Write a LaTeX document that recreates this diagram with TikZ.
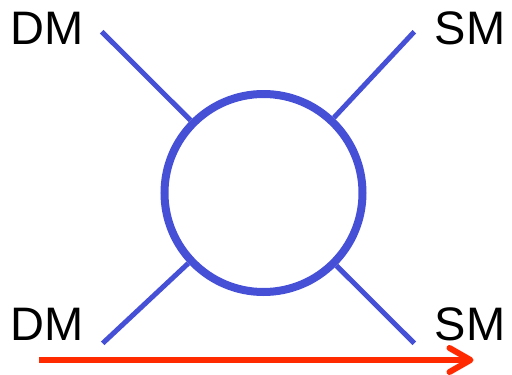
\documentclass[tikz,border=0pt]{standalone}
\usepackage{fontspec}
\setmainfont{Liberation Sans}
\usetikzlibrary{arrows.meta}
\definecolor{dmblue}{HTML}{4550D6}
\definecolor{arrred}{HTML}{FF2A00}
\tikzset{
  lbl/.style={inner sep=0pt, anchor=base west, font=\fontsize{47}{47}\selectfont, text=black},
  leg/.style={draw=dmblue, line width=5pt},
  blob/.style={circle, draw=dmblue, line width=8pt, minimum size=198pt, inner sep=0pt},
  flow/.style={draw=arrred, line width=6pt, -{Straight Barb[length=21pt, width=24pt, round]}}
}
\begin{document}
\begin{tikzpicture}[x=1pt, y=-1pt]
\useasboundingbox (0,0) rectangle (512,375);
\node[blob] (c) at (263.5,193) {};
\node[lbl] (dm1) at (10.5,44) {DM};
\node[lbl] (sm1) at (434.5,44) {SM};
\node[lbl] (dm2) at (10.5,340.7) {DM};
\node[lbl] (sm2) at (434.5,340.7) {SM};
\coordinate (a1) at (101.7,31.7);
\coordinate (a2) at (414.3,31.7);
\coordinate (a3) at (102.7,343.3);
\coordinate (a4) at (414.3,343.3);
\draw[leg] (a1) -- (c);
\draw[leg] (a2) -- (c);
\draw[leg] (a3) -- (c);
\draw[leg] (a4) -- (c);
\coordinate (r1) at (39.3,360);
\coordinate (r2) at (473.5,360);
\draw[flow] (r1) -- (r2);
\end{tikzpicture}
\end{document}
